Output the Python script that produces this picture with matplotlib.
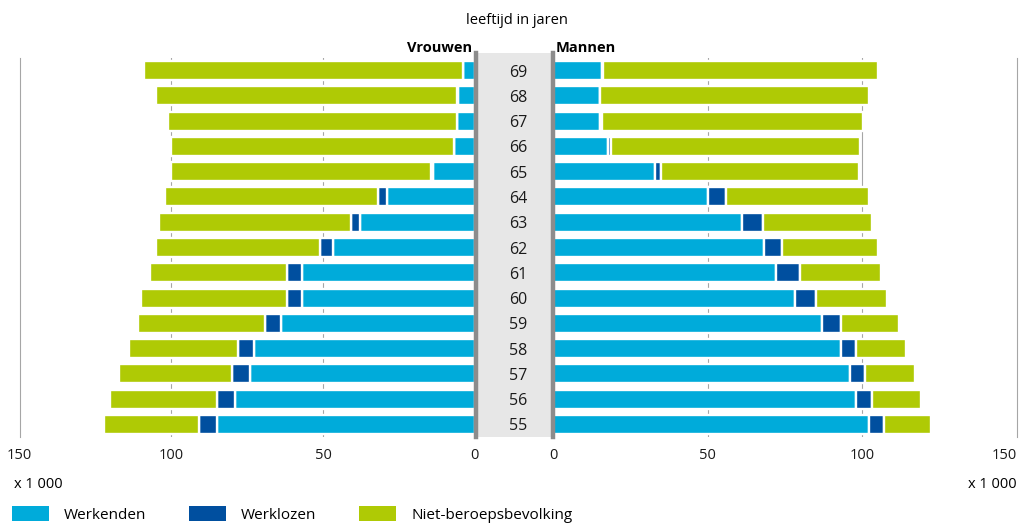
import matplotlib.pyplot as plt
from matplotlib.patches import Patch
from matplotlib.transforms import blended_transform_factory

plt.rcParams['font.family'] = ['Open Sans', 'Noto Sans', 'DejaVu Sans']

# leeftijd 55..69, aantallen x 1 000
leeftijd = [55, 56, 57, 58, 59, 60, 61, 62, 63, 64, 65, 66, 67, 68, 69]

vrouwen_werkenden = [85.0, 79.0, 74.0, 72.9, 63.9, 56.9, 56.9, 46.8, 37.8, 28.8, 13.7, 6.7, 5.8, 5.5, 3.7]
vrouwen_werklozen = [6.0, 5.9, 6.0, 5.0, 5.1, 4.9, 4.9, 4.1, 3.1, 3.1, 0.7, 0.1, 0.1, 0.3, 0.1]
vrouwen_niet = [31.2, 35.2, 37.1, 36.1, 42.1, 48.3, 45.3, 54.2, 63.2, 70.2, 85.7, 93.3, 95.2, 99.3, 105.3]

mannen_werkenden = [102.1, 98.0, 96.0, 93.0, 87.0, 78.1, 72.0, 68.1, 61.0, 50.1, 33.1, 17.9, 15.1, 15.1, 16.0]
mannen_werklozen = [4.9, 5.0, 5.0, 5.0, 6.0, 7.0, 8.0, 6.0, 7.0, 5.9, 1.9, 0.8, 0.8, 0.2, 0.2]
mannen_niet = [15.1, 16.1, 16.1, 16.1, 19.0, 23.0, 26.1, 31.1, 35.1, 46.1, 64.0, 80.5, 84.3, 86.8, 89.0]

reeksen = ['Werkenden', 'Werklozen', 'Niet-beroepsbevolking']
kleuren = ['#00abda', '#004f9f', '#afca05']

W, H = 1019, 523
fig = plt.figure(figsize=(W / 100, H / 100), dpi=100)


def box(x0, y0, x1, y1):
    # pixel box (from top left) -> figure fraction
    return [x0 / W, 1 - y1 / H, (x1 - x0) / W, (y1 - y0) / H]


ax_l = fig.add_axes(box(19.6, 58, 474.7, 437))
ax_r = fig.add_axes(box(553, 58, 1017, 437))
ax_c = fig.add_axes(box(475.5, 53, 552.8, 437))

y = list(range(len(leeftijd)))
grijs = '#a6a6a6'

for ax, werk, werkl, niet in [(ax_l, vrouwen_werkenden, vrouwen_werklozen, vrouwen_niet),
                              (ax_r, mannen_werkenden, mannen_werklozen, mannen_niet)]:
    links = [0] * len(y)
    for vals, kleur in zip([werk, werkl, niet], kleuren):
        ax.barh(y, vals, left=links, height=0.75, color=kleur,
                edgecolor='white', linewidth=1.7, zorder=2)
        links = [a + b for a, b in zip(links, vals)]
    for v in (50, 100):
        ax.axvline(v, color=grijs, lw=0.8, zorder=0)
    ax.set_ylim(-0.5, 14.5)
    ax.set_yticks([])
    ax.set_xticks([0, 50, 100, 150])
    ax.tick_params(axis='x', length=0, pad=8, labelsize=10.5, labelcolor='#1a1a1a')
    ax.set_facecolor('none')
    for s in ax.spines.values():
        s.set_visible(False)

ax_l.set_xlim(150, 0)
ax_r.set_xlim(0, 150)
ax_l.spines['left'].set_visible(True)
ax_l.spines['left'].set_color(grijs)
ax_r.spines['right'].set_visible(True)
ax_r.spines['right'].set_color(grijs)
ax_r.get_xticklabels()[-1].set_horizontalalignment('right')

# middenband met leeftijden
ax_c.set_facecolor('#e7e7e7')
ax_c.set_xticks([])
ax_c.set_yticks([])
ax_c.spines['top'].set_visible(False)
ax_c.spines['bottom'].set_visible(False)
for k in ('left', 'right'):
    ax_c.spines[k].set_color('#8c8c8c')
    ax_c.spines[k].set_linewidth(3.2)
ax_c.set_zorder(3)
trans = blended_transform_factory(ax_c.transAxes, ax_l.transData)
for i, a in zip(y, leeftijd):
    ax_c.text(0.556, i, str(a), transform=trans, ha='center', va='center_baseline',
              fontsize=11.5, color='#1a1a1a')

fig.text(517 / W, 1 - 21 / H, 'leeftijd in jaren', ha='center', va='center', fontsize=10.5)
fig.text(472 / W, 1 - 48 / H, 'Vrouwen', ha='right', va='center', fontsize=10.5, fontweight='bold')
fig.text(555.5 / W, 1 - 48 / H, 'Mannen', ha='left', va='center', fontsize=10.5, fontweight='bold')
fig.text(14 / W, 1 - 484 / H, 'x 1 000', ha='left', va='center', fontsize=10.5)
fig.text(1017 / W, 1 - 484 / H, 'x 1 000', ha='right', va='center', fontsize=10.5)

handles = [Patch(facecolor=k, label=r) for r, k in zip(reeksen, kleuren)]
fig.legend(handles=handles, loc='upper left', bbox_to_anchor=(12 / W, 1 - 506 / H),
           ncol=3, frameon=False, handlelength=2.4, handleheight=1.1,
           handletextpad=1.0, columnspacing=2.8, borderpad=0, borderaxespad=0,
           fontsize=11)

fig.savefig('out.png', dpi=100)
